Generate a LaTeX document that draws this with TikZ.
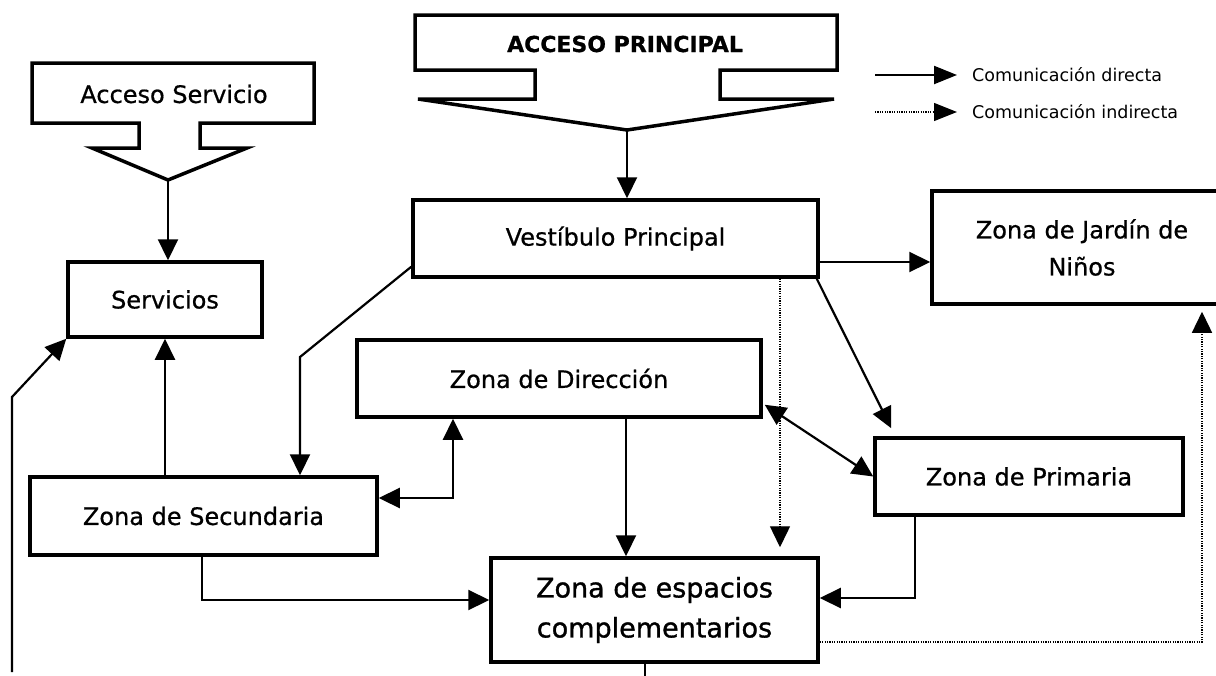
\documentclass[tikz,border=0pt]{standalone}
\usepackage{fontspec}
\setmainfont{DejaVu Sans}
\newfontfamily\heavyfont[FakeBold=0.7]{DejaVu Sans}
\newfontfamily\heavierfont[FakeBold=1.2]{DejaVu Sans}
\usetikzlibrary{arrows.meta,calc}
\tikzset{
  box/.style={draw=black, line width=3.5pt, rectangle, inner sep=0pt, align=center, font=\heavyfont\fontsize{24}{37}\selectfont},
  accshape/.style={draw=black, line width=3.5pt, line join=miter, fill=white},
  tip/.style={Triangle[length=21pt,width=20pt]},
  arr/.style={line width=2.2pt, -{Triangle[length=21pt,width=20pt]}},
  arrb/.style={line width=2.2pt, {Triangle[length=21pt,width=20pt]}-{Triangle[length=21pt,width=20pt]}},
  plain/.style={line width=2.2pt},
  dotarr/.style={line width=1.4pt, dash pattern=on 1.2pt off 1.2pt, -{Triangle[length=21pt,width=20pt]}},
  legarr/.style={line width=2.2pt, -{Triangle[length=23pt,width=18pt]}},
  legdot/.style={line width=1.4pt, dash pattern=on 1.2pt off 1.2pt, -{Triangle[length=23pt,width=18pt]}},
  legtext/.style={anchor=west, inner sep=0pt, font=\fontsize{17.5}{20}\selectfont}
}
\begin{document}
\begin{tikzpicture}[x=1pt,y=-1pt]
\useasboundingbox (0,0) rectangle (1216,675);
\clip (0,0) rectangle (1216,675);
\fill[white] (0,0) rectangle (1216,675);

% Access shapes
\draw[accshape] (415,15) -- (837,15) -- (837,70) -- (720,70) -- (720,99) -- (834,99) -- (627,130) -- (418,99) -- (535,99) -- (535,70) -- (415,70) -- cycle;
\coordinate (aptip) at (627,130);
\node[font=\heavyfont\bfseries\fontsize{22}{26}\selectfont] (aptext) at (625,44) {ACCESO PRINCIPAL};

\draw[accshape] (32,63) -- (314,63) -- (314,123) -- (200,123) -- (200,148) -- (247,148) -- (168,180) -- (92,148) -- (139,148) -- (139,123) -- (32,123) -- cycle;
\coordinate (astip) at (168,180);
\node[font=\heavyfont\fontsize{24}{28}\selectfont] (astext) at (174,94) {Acceso Servicio};

% Boxes
\node[box, minimum width=194pt, minimum height=75pt] (serv) at (165,299.5) {Servicios};
\node[box, minimum width=405pt, minimum height=77pt] (vest) at (615.5,238.5) {Vestíbulo Principal};
\node[box, minimum width=300pt, minimum height=113pt] (jard) at (1082,247.5) {Zona de Jardín de\\Niños};
\node[box, minimum width=404pt, minimum height=77pt] (dir) at (559,378.5) {Zona de Dirección};
\node[box, minimum width=308pt, minimum height=77pt] (prim) at (1029,476.5) {Zona de Primaria};
\node[box, minimum width=347pt, minimum height=78pt] (sec) at (203.5,516) {Zona de Secundaria};
\node[box, minimum width=327pt, minimum height=104pt, font=\heavierfont\fontsize{27}{40}\selectfont] (comp) at (654.5,610) {Zona de espacios\\complementarios};

% Connectors
\draw[arr] (aptip) -- (aptip |- vest.north);
\draw[arr] (astip) -- (astip |- serv.north);
\draw[arr] (serv.south |- sec.north) -- (serv.south);

\coordinate (lb) at (12,672);
\coordinate (lc) at (12,397);
\draw[arr] (lb) -- (lc) -- (serv.south west);

\coordinate (c1) at (300,357);
\draw[arr] ([yshift=12pt]vest.south west) -- (c1) -- (c1 |- sec.north);

\coordinate (c2) at (453,498);
\draw[arrb] (c2 -| sec.east) -- (c2) -- (c2 |- dir.south);

\draw[arr] ([xshift=67pt]dir.south) -- ([xshift=67pt]dir.south |- comp.north);

\draw[dotarr, shorten >=9pt] ([xshift=164.5pt]vest.south) -- ([xshift=164.5pt]vest.south |- comp.north);

\coordinate (c3) at (202,600);
\draw[arr] (c3 |- sec.south) -- (c3) -- (c3 -| comp.west);

\coordinate (c4) at (915,598);
\draw[arr] (c4 |- prim.south) -- (c4) -- (c4 -| comp.east);

\coordinate (c5) at (1202,642);
\draw[dotarr, shorten >=6pt] (c5 -| comp.east) -- (c5) -- (c5 |- jard.south);

\draw[arr] ([yshift=-23.5pt]vest.east) -- ([yshift=-23.5pt]vest.east -| jard.west);

\draw[arr] ([xshift=-3pt]vest.south east) -- ([xshift=18pt,yshift=8pt]prim.north west);

\draw[arrb] ([xshift=2pt,yshift=14pt]dir.south east) -- (prim.west);

\coordinate (c7) at (645,680);
\draw[plain] (c7 |- comp.south) -- (c7);

% Legend
\coordinate (l1) at (875,75);
\coordinate (l2) at (957,75);
\coordinate (l3) at (875,112);
\coordinate (l4) at (957,112);
\draw[legarr] (l1) -- (l2);
\draw[legdot] (l3) -- (l4);
\node[legtext] (lt1) at (972,75) {Comunicación directa};
\node[legtext] (lt2) at (972,112) {Comunicación indirecta};
\end{tikzpicture}
\end{document}
